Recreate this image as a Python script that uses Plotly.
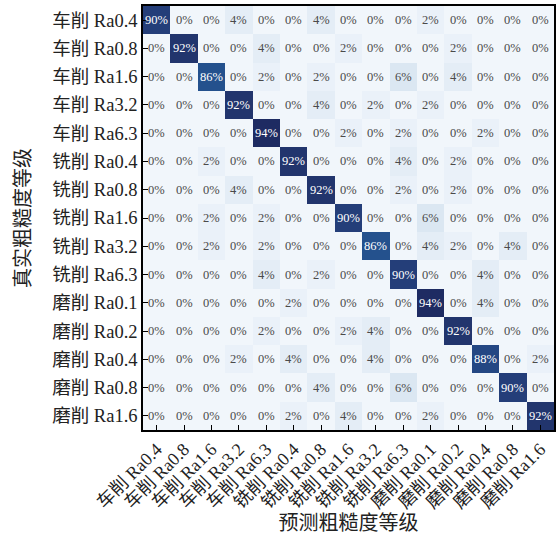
import plotly.graph_objects as go

# Roughness classes (true = rows, predicted = columns)
classes = [
    "车削 Ra0.4", "车削 Ra0.8", "车削 Ra1.6", "车削 Ra3.2", "车削 Ra6.3",
    "铣削 Ra0.4", "铣削 Ra0.8", "铣削 Ra1.6", "铣削 Ra3.2", "铣削 Ra6.3",
    "磨削 Ra0.1", "磨削 Ra0.2", "磨削 Ra0.4", "磨削 Ra0.8", "磨削 Ra1.6",
]

# Confusion matrix, percent of each true class
row_00 = [90, 0, 0, 4, 0, 0, 4, 0, 0, 0, 2, 0, 0, 0, 0]
row_01 = [0, 92, 0, 0, 4, 0, 0, 2, 0, 0, 0, 2, 0, 0, 0]
row_02 = [0, 0, 86, 0, 2, 0, 2, 0, 0, 6, 0, 4, 0, 0, 0]
row_03 = [0, 0, 0, 92, 0, 0, 4, 0, 2, 0, 2, 0, 0, 0, 0]
row_04 = [0, 0, 0, 0, 94, 0, 0, 2, 0, 2, 0, 0, 2, 0, 0]
row_05 = [0, 0, 2, 0, 0, 92, 0, 0, 0, 4, 0, 2, 0, 0, 0]
row_06 = [0, 0, 0, 4, 0, 0, 92, 0, 0, 2, 0, 2, 0, 0, 0]
row_07 = [0, 0, 2, 0, 2, 0, 0, 90, 0, 0, 6, 0, 0, 0, 0]
row_08 = [0, 0, 2, 0, 2, 0, 0, 0, 86, 0, 4, 2, 0, 4, 0]
row_09 = [0, 0, 0, 0, 4, 0, 2, 0, 0, 90, 0, 0, 4, 0, 0]
row_10 = [0, 0, 0, 0, 0, 2, 0, 0, 0, 0, 94, 0, 4, 0, 0]
row_11 = [0, 0, 0, 0, 2, 0, 0, 2, 4, 0, 0, 92, 0, 0, 0]
row_12 = [0, 0, 0, 2, 0, 4, 0, 0, 4, 0, 0, 0, 88, 0, 2]
row_13 = [0, 0, 0, 0, 0, 0, 4, 0, 0, 6, 0, 0, 0, 90, 0]
row_14 = [0, 0, 0, 0, 0, 2, 0, 4, 0, 0, 2, 0, 0, 0, 92]

matrix = [row_00, row_01, row_02, row_03, row_04, row_05, row_06, row_07,
          row_08, row_09, row_10, row_11, row_12, row_13, row_14]

FONT = "Liberation Serif, Times New Roman, Noto Sans CJK SC, serif"
zmax = max(max(r) for r in matrix)

colorscale = [
    [0.0, "#f1f6fb"],
    [0.045, "#e3ecf6"],
    [0.07, "#d9e5f1"],
    [0.5, "#6d9ac8"],
    [0.91, "#24538f"],
    [0.955, "#243f7a"],
    [0.98, "#22346c"],
    [1.0, "#1e2b62"],
]

fig = go.Figure(
    go.Heatmap(
        z=matrix,
        x=classes,
        y=classes,
        zmin=0,
        zmax=zmax,
        colorscale=colorscale,
        showscale=False,
        hoverinfo="skip",
    )
)

# Cell labels
annotations = []
for i, true_cls in enumerate(classes):
    for j, pred_cls in enumerate(classes):
        v = matrix[i][j]
        annotations.append(dict(
            x=pred_cls, y=true_cls, text=f"{v}%", showarrow=False,
            font=dict(family=FONT, size=12.5,
                      color="#ffffff" if v > zmax / 2 else "#4a4a4a"),
        ))

fig.update_layout(
    width=558,
    height=539,
    margin=dict(l=143, r=2, t=6, b=109),
    paper_bgcolor="white",
    plot_bgcolor="white",
    font=dict(family=FONT, color="#222222"),
    annotations=annotations,
)

fig.update_xaxes(
    title=dict(text="预测粗糙度等级", font=dict(size=20, family=FONT), standoff=0),
    tickangle=-45,
    tickfont=dict(size=18, family=FONT),
    ticks="inside", ticklen=5, tickcolor="black",
    showline=True, linecolor="black", linewidth=1.5, mirror=True,
    showgrid=False, zeroline=False,
)
fig.update_yaxes(
    title=dict(text="真实粗糙度等级", font=dict(size=20, family=FONT), standoff=16),
    autorange="reversed",
    tickfont=dict(size=18.5, family=FONT),
    ticks="inside", ticklen=5, tickcolor="black",
    showline=True, linecolor="black", linewidth=1.5, mirror=True,
    showgrid=False, zeroline=False,
)

fig.write_html("out.html")
